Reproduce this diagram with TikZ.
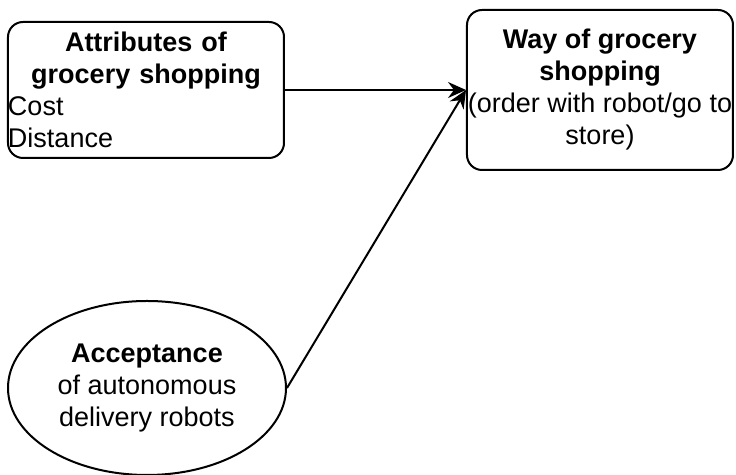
\documentclass[tikz,border=0pt]{standalone}
\usepackage{fontspec}
\setmainfont{Liberation Sans}
\usetikzlibrary{shapes.geometric,arrows.meta}

\tikzset{
		factor/.style   = {shape=rectangle, rounded corners=7.5pt,
				draw, line width=1pt, inner xsep=0pt, inner ysep=0pt,
				minimum width=138pt, minimum height=68pt,
				font=\fontsize{13.5}{16}\selectfont},
		outcome/.style  = {factor, align=center,
				minimum width=133pt, minimum height=80pt},
		attitude/.style = {shape=ellipse, draw, line width=1pt,
				inner sep=0pt, align=center,
				minimum width=139pt, minimum height=87pt,
				font=\fontsize{13.5}{16}\selectfont},
		link/.style     = {-{Stealth[length=9pt, width=8pt, inset=3pt]}, line width=1pt}
	}

\begin{document}
\begin{tikzpicture}[x=0.5pt, y=-0.5pt]
				\useasboundingbox (0,0) rectangle (736,475);
				\node [factor, text width=138pt, align=left] (attributes) at (146,90)
				{{\centering\bfseries Attributes of\\grocery shopping\par}Cost\\Distance};
				\node [outcome] (way) at (600,90)
				{\textbf{Way of grocery}\\\textbf{shopping}\\(order with robot/go to\\store)};
				\node [attitude] (acceptance) at (147,388)
				{\textbf{Acceptance}\\of autonomous\\delivery robots};
				% both arrows end on the same point
				\draw [link] (attributes.east) -- (way.west);
				\draw [link] (acceptance.east) -- (way.west);
			\end{tikzpicture}
\end{document}
